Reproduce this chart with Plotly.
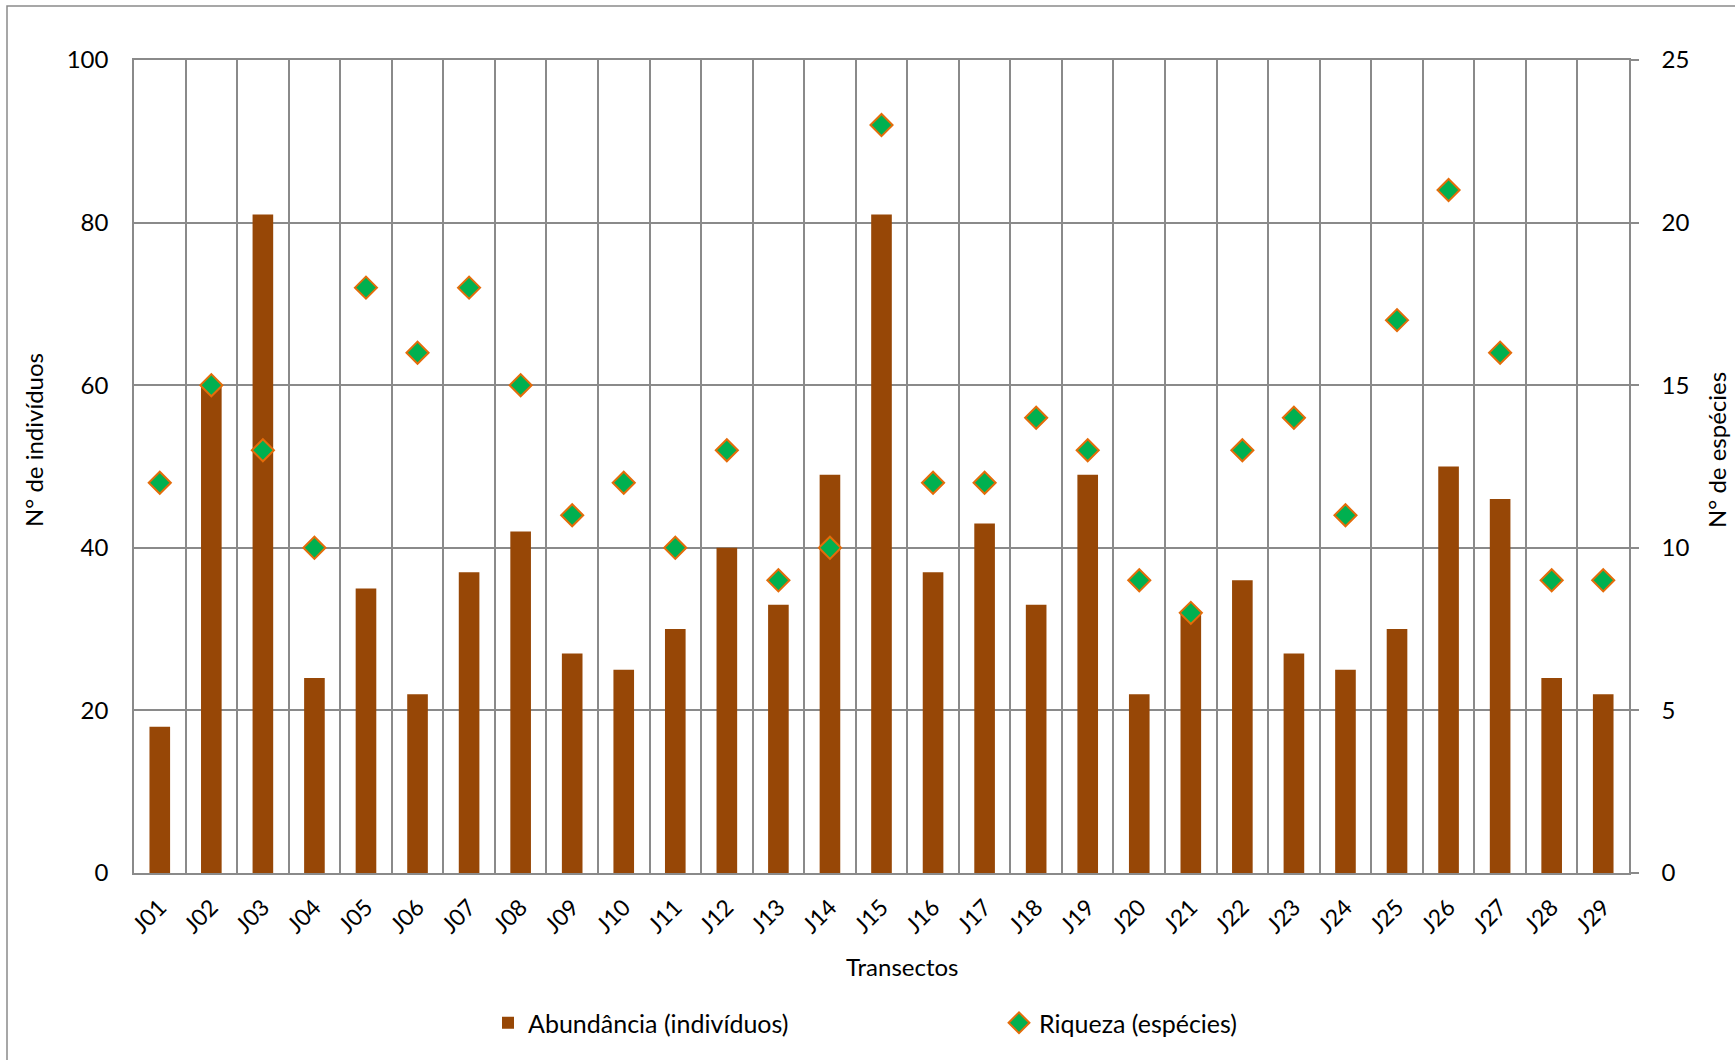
import plotly.graph_objects as go

# Transect data
transectos = ["J01", "J02", "J03", "J04", "J05", "J06", "J07", "J08", "J09", "J10",
              "J11", "J12", "J13", "J14", "J15", "J16", "J17", "J18", "J19", "J20",
              "J21", "J22", "J23", "J24", "J25", "J26", "J27", "J28", "J29"]
abundancia = [18, 60, 81, 24, 35, 22, 37, 42, 27, 25,
              30, 40, 33, 49, 81, 37, 43, 33, 49, 22,
              32, 36, 27, 25, 30, 50, 46, 24, 22]
riqueza = [12, 15, 13, 10, 18, 16, 18, 15, 11, 12,
           10, 13, 9, 10, 23, 12, 12, 14, 13, 9,
           8, 13, 14, 11, 17, 21, 16, 9, 9]

W, H = 1735, 1060
L, R, T, B = 134, 1629, 60, 873  # plot area in pixels


def px(x):
    return (x - L) / (R - L)


def py(y):
    return (B - y) / (B - T)


FONT = "Lato, 'Open Sans', sans-serif"
GRID = "#8a8a8a"
BAR = "#974706"
FILL = "#00B050"
EDGE = "#E46C0A"

fig = go.Figure()
fig.add_trace(go.Bar(
    x=transectos, y=abundancia, name="Abundância (indivíduos)",
    marker=dict(color=BAR, line=dict(width=0)), yaxis="y",
))
fig.add_trace(go.Scatter(
    x=transectos, y=riqueza, name="Riqueza (espécies)", mode="markers",
    marker=dict(symbol="diamond", size=17, color=FILL, line=dict(color=EDGE, width=2)),
    yaxis="y2",
))

fig.update_layout(
    width=W, height=H,
    margin=dict(l=L, r=W - R, t=T, b=H - B, pad=0),
    paper_bgcolor="white", plot_bgcolor="white",
    font=dict(family=FONT, size=24, color="black"),
    bargap=0.6,
    showlegend=True,
    legend=dict(orientation="h", x=px(488), y=py(1023), xanchor="left", yanchor="middle",
                entrywidth=466, entrywidthmode="pixels",
                font=dict(family=FONT, size=25), bgcolor="rgba(0,0,0,0)"),
    xaxis=dict(
        type="category", range=[-0.5, len(transectos) - 0.5],
        tickson="boundaries", showgrid=True, gridcolor=GRID, gridwidth=1.5,
        showline=True, linecolor=GRID, linewidth=1.5, mirror=True,
        ticks="", tickangle=-45, tickfont=dict(size=23), ticklabelstandoff=10,
    ),
    yaxis=dict(
        range=[0, 100], dtick=20, showgrid=True, gridcolor=GRID, gridwidth=1.5,
        showline=True, linecolor=GRID, linewidth=1.5, ticks="", ticklabelstandoff=19,
        zeroline=False, tickfont=dict(size=24),
    ),
    yaxis2=dict(
        range=[0, 25], dtick=5, overlaying="y", side="right", showgrid=False,
        showline=True, linecolor=GRID, linewidth=1.5, ticks="outside", ticklen=8,
        tickcolor=GRID, tickwidth=1.5, ticklabelstandoff=18, zeroline=False,
        tickfont=dict(size=24),
    ),
    annotations=[
        dict(text="N° de indivíduos", x=px(33), y=py(440), xref="paper", yref="paper",
             xanchor="center", yanchor="middle",
             textangle=-90, showarrow=False, font=dict(size=24)),
        dict(text="N° de espécies", x=px(1716), y=py(450), xref="paper", yref="paper",
             xanchor="center", yanchor="middle",
             textangle=-90, showarrow=False, font=dict(size=24)),
        dict(text="Transectos", x=px(902), y=py(966), xref="paper", yref="paper",
             xanchor="center", yanchor="middle",
             showarrow=False, font=dict(size=24)),
    ],
    shapes=[
        dict(type="rect", xref="paper", yref="paper",
             x0=px(7), x1=px(1780), y0=py(6), y1=py(1100),
             line=dict(color=GRID, width=1.5), fillcolor="rgba(0,0,0,0)", layer="below"),
    ],
)

fig.write_html("out.html")
